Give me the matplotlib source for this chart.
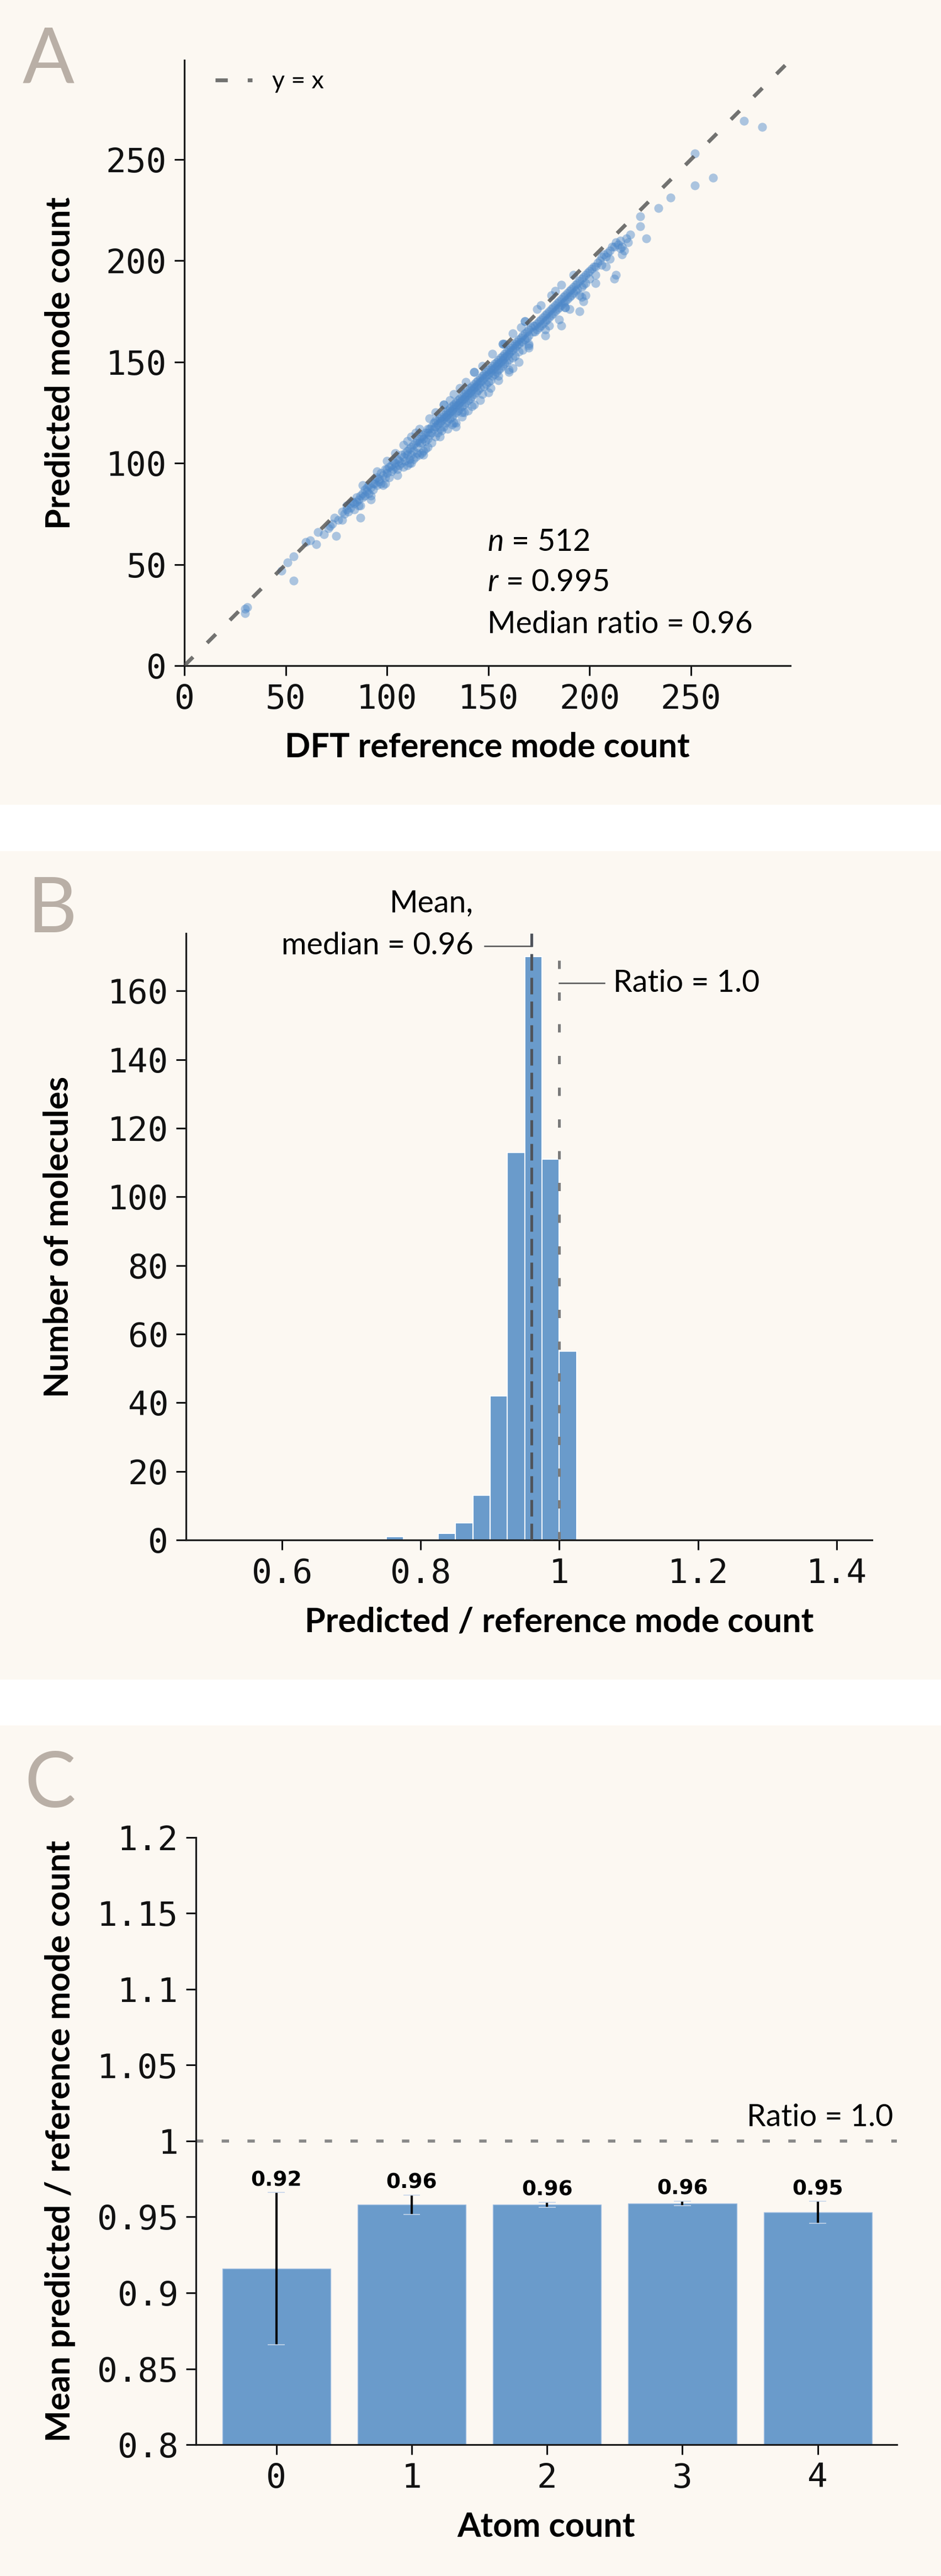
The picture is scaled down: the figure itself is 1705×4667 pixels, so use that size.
import matplotlib
matplotlib.use("Agg")
import matplotlib.pyplot as plt
from matplotlib.patches import Rectangle

# ---- data ----------------------------------------------------------------
# panel A: DFT reference vs predicted mode count
ref_modes = [
    30, 30, 31, 48, 51, 54, 54, 60, 62, 65, 66, 69, 71, 72, 74, 75, 76, 73,
    78, 78, 79, 80, 80, 81, 82, 82, 83, 84, 84, 85, 85, 86, 86, 87, 87, 87, 88, 88, 89, 89, 90,
    90, 91, 91, 92, 92, 93, 93, 94, 94, 95, 95, 96, 96, 97, 97, 98, 98, 99, 99,
    100, 100, 101, 101, 102, 102, 103, 103, 104, 104, 105, 105, 106, 106, 107, 107, 108, 108,
    109, 109, 110, 110, 110, 111, 111, 112, 112, 112, 113, 113, 114, 114, 115, 115, 115, 116,
    116, 116, 117, 117, 118, 118, 118, 119, 119, 120, 120, 120, 120, 121, 121, 122, 122, 122,
    123, 123, 124, 124, 124, 125, 125, 125, 113, 119, 117, 104, 114, 121, 110,
    126, 126, 126, 127, 127, 127, 128, 128, 128, 129, 129, 129, 130, 130, 130, 130, 131, 131,
    131, 132, 132, 132, 132, 133, 133, 133, 134, 134, 134, 134, 135, 135, 135, 136, 136, 136,
    137, 137, 137, 137, 138, 138, 138, 139, 139, 139, 140, 140, 140, 140, 141, 141, 141, 142,
    142, 142, 143, 143, 143, 143, 144, 144, 144, 145, 145, 145, 146, 146, 146, 146, 147, 147,
    148, 148, 148, 149, 149, 149, 150, 150, 150, 150, 131, 139, 147, 134, 138, 128, 143,
    151, 151, 151, 152, 152, 152, 153, 153, 153, 154, 154, 154, 155, 155, 155, 155, 156, 156,
    156, 157, 157, 157, 158, 158, 158, 159, 159, 159, 160, 160, 160, 160, 161, 161, 162, 162,
    162, 163, 163, 163, 164, 164, 165, 165, 165, 166, 166, 167, 167, 167, 168, 168, 169, 169,
    170, 170, 170, 171, 172, 172, 173, 173, 174, 174, 175, 175, 158, 166, 174, 162, 170, 157, 168,
    176, 176, 177, 177, 178, 178, 179, 179, 180, 180, 181, 181, 182, 182, 183, 183, 184, 184,
    185, 185, 186, 186, 186, 187, 187, 188, 188, 188, 189, 189, 190, 190, 191, 191, 192, 192,
    193, 193, 194, 194, 195, 195, 196, 196, 197, 197, 198, 198, 199, 200, 200, 183, 192, 178, 188, 195,
    201, 202, 203, 204, 205, 206, 207, 208, 209, 210, 211, 212, 213, 214, 215, 216, 217, 218,
    219, 213, 212, 216, 220, 210, 206, 215, 203, 198, 197,
    225, 225, 228, 234, 240, 252, 252, 261, 276, 285,
    88, 95, 108, 128, 143, 157, 168, 186, 116, 136,
    105, 118, 126, 133, 142, 151, 160, 165, 178, 185, 190, 196, 203, 208, 99, 92, 111, 137,
    147, 155, 170, 180, 100, 112, 124, 133, 152, 162, 176, 181,
]
pred_modes = [
    28, 26, 29, 47, 51, 54, 42, 61, 62, 60, 66, 65, 68, 69, 73, 64, 72, 70,
    72, 76, 75, 77, 79, 76, 80, 78, 81, 80, 77, 83, 81, 82, 79, 84, 73, 79, 85, 83, 87, 84, 86,
    88, 89, 85, 88, 84, 90, 87, 90, 92, 93, 89, 92, 91, 95, 90, 94, 89, 97, 93,
    97, 95, 98, 93, 99, 96, 101, 97, 100, 98, 102, 97, 101, 99, 104, 100, 103, 98,
    105, 101, 106, 104, 99, 107, 102, 108, 104, 100, 109, 106, 110, 103, 111, 108, 105, 112,
    110, 104, 113, 110, 114, 112, 106, 115, 111, 117, 115, 112, 108, 117, 114, 118, 115, 110,
    120, 117, 121, 118, 113, 121, 119, 115, 102, 107, 105, 105, 115, 122, 111,
    122, 120, 117, 123, 121, 116, 124, 122, 118, 125, 123, 120, 126, 124, 121, 117, 127, 125,
    122, 128, 126, 123, 119, 129, 127, 124, 130, 128, 125, 120, 131, 129, 126, 132, 130, 127,
    133, 131, 128, 123, 134, 132, 129, 135, 133, 130, 136, 134, 131, 126, 137, 135, 132, 138,
    136, 133, 139, 137, 134, 129, 140, 138, 135, 141, 139, 136, 142, 140, 137, 131, 143, 141,
    144, 142, 138, 145, 143, 139, 146, 144, 140, 135, 131, 140, 148, 118, 125, 129, 145,
    147, 145, 141, 148, 146, 143, 149, 147, 144, 150, 148, 145, 151, 149, 146, 141, 152, 150,
    147, 153, 151, 148, 154, 152, 149, 155, 153, 150, 156, 154, 151, 146, 157, 155, 158, 156,
    152, 159, 157, 153, 160, 158, 161, 159, 155, 162, 160, 163, 160, 156, 164, 161, 165, 162,
    166, 163, 159, 167, 168, 165, 168, 165, 169, 166, 170, 167, 159, 167, 176, 147, 157, 159, 170,
    171, 168, 172, 169, 173, 170, 174, 171, 175, 172, 176, 173, 177, 174, 178, 175, 179, 176,
    180, 177, 181, 178, 168, 182, 179, 183, 180, 177, 184, 181, 185, 182, 186, 183, 187, 184,
    188, 185, 189, 186, 190, 175, 191, 187, 192, 188, 193, 189, 194, 195, 191, 185, 193, 163, 177, 183,
    196, 197, 197, 199, 200, 202, 203, 202, 204, 205, 207, 207, 209, 208, 210, 207, 205, 211,
    209, 193, 191, 203, 213, 201, 198, 206, 189, 183, 180,
    222, 217, 211, 226, 231, 253, 237, 241, 269, 266,
    89, 96, 109, 129, 145, 159, 170, 188, 117, 137,
    94, 104, 113, 120, 128, 137, 145, 150, 166, 171, 176, 182, 193, 197, 90, 82, 100, 125,
    134, 143, 158, 168, 101, 113, 125, 134, 154, 164, 178, 183,
]
stats_lines = ["$n$ = 512", "$r$ = 0.995", "Median ratio = 0.96"]

# panel B: histogram of predicted / reference ratio
bin_left = [0.750, 0.825, 0.850, 0.875, 0.900, 0.925, 0.950, 0.975, 1.000]
bin_counts = [1, 2, 5, 13, 42, 113, 170, 111, 55]
bin_width = 0.025
mean_ratio = 0.96

# panel C: mean ratio by atom count
atom_counts = [0, 1, 2, 3, 4]
atom_means = [0.916, 0.958, 0.958, 0.959, 0.953]
atom_errs = [0.050, 0.0064, 0.0018, 0.0015, 0.0073]
atom_labels = ["0.92", "0.96", "0.96", "0.96", "0.95"]

# ---- style ---------------------------------------------------------------
W, H, DPI = 1706, 4667, 100
CREAM = "#fcf8f2"
BLUE = "#4a86c8"
BAR = "#6a9bcb"
LETTER = "#b9afa6"
SANS = "Lato"
THIN = "normal"

plt.rcParams["font.family"] = "DejaVu Sans Mono"
plt.rcParams["mathtext.fontset"] = "custom"
plt.rcParams["mathtext.it"] = "Lato:italic"
plt.rcParams["mathtext.rm"] = "Lato"

fig = plt.figure(figsize=(W / DPI, H / DPI), dpi=DPI, facecolor="white")

for y0, y1 in [(0, 1458), (1542, 3043), (3126, 4667)]:
    fig.patches.append(Rectangle((0, 1 - y1 / H), 1, (y1 - y0) / H,
                                 transform=fig.transFigure, facecolor=CREAM,
                                 edgecolor="none", zorder=-10))


def box(x0, y0, x1, y1):
    return [x0 / W, 1 - y1 / H, (x1 - x0) / W, (y1 - y0) / H]


def style(ax):
    ax.set_facecolor(CREAM)
    ax.spines["top"].set_visible(False)
    ax.spines["right"].set_visible(False)
    for s in ["left", "bottom"]:
        ax.spines[s].set_linewidth(2.3)
        ax.spines[s].set_color("#1a1a1a")
    ax.tick_params(length=13, width=2.2, labelsize=44, pad=10, colors="#111111")


def labels(ax, xl, yl, xy, yx):
    ax.set_xlabel(xl, fontfamily=SANS, fontweight="bold", fontsize=44)
    ax.set_ylabel(yl, fontfamily=SANS, fontweight="bold", fontsize=44)
    ax.xaxis.label.set_verticalalignment("center")
    ax.yaxis.label.set_verticalalignment("center")
    ax.xaxis.set_label_coords(0.5, xy)
    ax.yaxis.set_label_coords(yx, 0.5)


def letter(x, y, s):
    fig.text(x / W, 1 - y / H, s, fontfamily=SANS, fontweight="normal",
             fontsize=100, color=LETTER, va="baseline", ha="left")


# ---- A -------------------------------------------------------------------
axA = fig.add_axes(box(334, 109, 1432, 1206))
style(axA)
axA.scatter(ref_modes, pred_modes, s=135, color=BLUE, alpha=0.45, linewidths=0, zorder=2)
axA.plot([0, 299], [0, 299], ls=(0, (3.2, 5.2)), lw=5, color="#505050", alpha=0.8,
         label="y = x", zorder=3)
axA.set_xlim(0, 299)
axA.set_ylim(0, 299)
axA.set_xticks([0, 50, 100, 150, 200, 250])
axA.set_yticks([0, 50, 100, 150, 200, 250])
axA.legend(loc="upper left", frameon=False, prop={"family": SANS, "size": 32},
           handlelength=1.5, bbox_to_anchor=(0.015, 1.02))
for yy, s in zip([0.204, 0.137, 0.068], stats_lines):
    axA.text(0.5, yy, s, transform=axA.transAxes, fontfamily=SANS, fontweight=THIN,
             fontsize=40, ha="left", va="center")
labels(axA, "DFT reference mode count", "Predicted mode count", -0.135, -0.205)
letter(41, 149, "A")

# ---- B -------------------------------------------------------------------
axB = fig.add_axes(box(337, 1691, 1690, 2790))
style(axB)
axB.bar(bin_left, bin_counts, width=bin_width, align="edge", color=BAR,
        edgecolor="white", linewidth=1.5, zorder=2)
axB.axvline(mean_ratio, ls=(0, (6, 2.6)), lw=3.6, color="#4f545b", zorder=3)
axB.plot([1.0, 1.0], [0, 171.5], ls=(0, (3, 8.5)), lw=3.6, color="#7a7a7a", zorder=3)
axB.set_xlim(0.461, 1.539)
axB.set_ylim(0, 176.8)
axB.spines["bottom"].set_bounds(0.461, 1.451)
axB.set_xticks([0.6, 0.8, 1.0, 1.2, 1.4])
axB.set_xticklabels(["0.6", "0.8", "1", "1.2", "1.4"])
axB.set_yticks(list(range(0, 161, 20)))
axB.plot([0.892, mean_ratio], [173.1, 173.1], color="#555555", lw=1.8, clip_on=False)
axB.text(0.8757, 185.5, "Mean,", fontfamily=SANS, fontweight=THIN, fontsize=40,
         ha="right", va="center", clip_on=False)
axB.text(0.8757, 173.1, "median = 0.96", fontfamily=SANS, fontweight=THIN,
         fontsize=40, ha="right", va="center", clip_on=False)
axB.plot([1.0, 1.065], [162.3, 162.3], color="#555555", lw=1.8)
axB.text(1.078, 162.3, "Ratio = 1.0", fontfamily=SANS, fontweight=THIN,
         fontsize=40, ha="left", va="center")
labels(axB, "Predicted / reference mode count", "Number of molecules", -0.1347, -0.1707)
letter(49, 1689, "B")

# ---- C -------------------------------------------------------------------
axC = fig.add_axes(box(355, 3329, 1625, 4429))
style(axC)
axC.bar(atom_counts, atom_means, width=0.8, color=BAR, edgecolor="#a9c4e4",
        linewidth=1, zorder=2)
axC.errorbar(atom_counts, atom_means, yerr=atom_errs, fmt="none", ecolor="black",
             elinewidth=3, capsize=0, zorder=3)
tops = [m + e for m, e in zip(atom_means, atom_errs)]
bots = [m - e for m, e in zip(atom_means, atom_errs)]
axC.hlines(tops, [x - 0.063 for x in atom_counts], [x + 0.063 for x in atom_counts],
           color="#c5d5ea", lw=1.2, zorder=3)
axC.hlines(bots, [x - 0.063 for x in atom_counts], [x + 0.063 for x in atom_counts],
           color="#c5d5ea", lw=1.2, zorder=3)
for x, t, s in zip(atom_counts, tops, atom_labels):
    axC.annotate(s, (x, t), xytext=(0, 3), textcoords="offset points", ha="center",
                 va="bottom", fontfamily="DejaVu Sans", fontweight="bold", fontsize=27)
axC.axhline(1.0, ls=(0, (2.4, 6)), lw=4, color="#888888", zorder=1)
axC.text(4.555, 1.0098, "Ratio = 1.0", fontfamily=SANS, fontweight=THIN,
         fontsize=40, ha="right", va="baseline")
axC.set_xlim(-0.594, 4.584)
axC.set_ylim(0.8, 1.2)
axC.set_xticks(atom_counts)
axC.set_yticks([0.8, 0.85, 0.9, 0.95, 1.0, 1.05, 1.1, 1.15, 1.2])
axC.set_yticklabels(["0.8", "0.85", "0.9", "0.95", "1", "1.05", "1.1", "1.15", "1.2"])
labels(axC, "Atom count", "Mean predicted / reference mode count", -0.1355, -0.1937)
letter(44, 3274, "C")

fig.savefig("out.png", dpi=DPI, facecolor="white")
